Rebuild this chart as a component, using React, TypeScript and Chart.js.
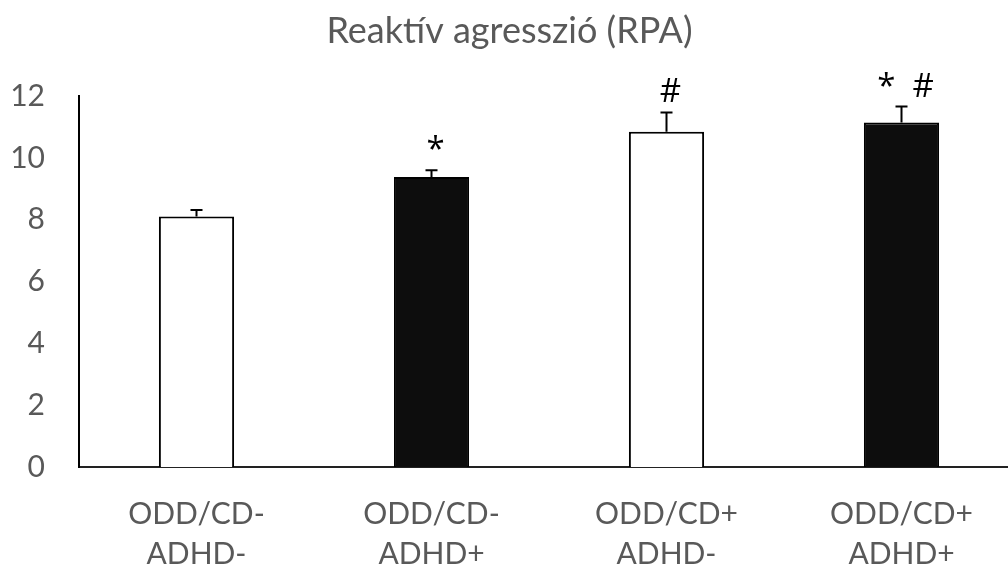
import React, { useEffect, useRef } from "react";
import { Chart, registerables } from "chart.js";

Chart.register(...registerables);

const chartTitle = "Reaktív agresszió (RPA)";
const categories: string[][] = [
  ["ODD/CD-", "ADHD-"],
  ["ODD/CD-", "ADHD+"],
  ["ODD/CD+", "ADHD-"],
  ["ODD/CD+", "ADHD+"],
];
const means = [8.1, 9.38, 10.84, 11.14];
const errors = [0.21, 0.22, 0.63, 0.52];
const marks = ["", "*", "#", "*  #"];
const fillColors = ["#ffffff", "#0d0d0d", "#ffffff", "#0d0d0d"];
const yTicks = [0, 2, 4, 6, 8, 10, 12];

const GRAY = "#595959";

const errorBarPlugin = {
  id: "errorBars",
  afterDatasetsDraw(chart: any) {
    const ctx = chart.ctx;
    const meta = chart.getDatasetMeta(0);
    const yScale = chart.scales.y;
    ctx.save();
    ctx.strokeStyle = "#000000";
    ctx.lineWidth = 2;
    meta.data.forEach((bar: any, i: number) => {
      const top = yScale.getPixelForValue(means[i]);
      const errTop = yScale.getPixelForValue(means[i] + errors[i]);
      ctx.beginPath();
      ctx.moveTo(bar.x, top);
      ctx.lineTo(bar.x, errTop);
      ctx.moveTo(bar.x - 6, errTop);
      ctx.lineTo(bar.x + 6, errTop);
      ctx.stroke();
      if (marks[i]) {
        ctx.fillStyle = "#000000";
        ctx.font = "33px 'Open Sans', sans-serif";
        ctx.textAlign = "center";
        ctx.textBaseline = "alphabetic";
        ctx.fillText(marks[i], bar.x + 4, errTop - 10);
      }
    });
    ctx.restore();
  },
};

export default function App() {
  const canvasRef = useRef<HTMLCanvasElement | null>(null);

  useEffect(() => {
    if (!canvasRef.current) return;
    const chart = new Chart(canvasRef.current, {
      type: "bar",
      data: {
        labels: categories,
        datasets: [
          {
            data: means,
            backgroundColor: fillColors,
            borderColor: "#000000",
            borderWidth: 2,
            barPercentage: 1,
            categoryPercentage: 0.32,
          },
        ],
      },
      options: {
        animation: false,
        responsive: false,
        devicePixelRatio: 1,
        layout: { padding: { top: 0, right: 1, bottom: 0, left: 0 } },
        plugins: {
          legend: { display: false },
          tooltip: { enabled: false },
          title: {
            display: true,
            text: chartTitle,
            color: GRAY,
            font: { family: "Lato", size: 36, weight: "normal", lineHeight: 1.2 },
            padding: { top: 9.4, bottom: 43.4 },
          },
        },
        scales: {
          x: {
            grid: { display: false, drawTicks: false, tickLength: 0 },
            border: { display: true, color: "#222222", width: 2 },
            ticks: {
              color: GRAY,
              font: { family: "Lato", size: 30, lineHeight: 1.33 },
              padding: 27,
              maxRotation: 0,
              autoSkip: false,
            },
            afterFit: (scale: any) => {
              scale.height = 103;
            },
          },
          y: {
            min: 0,
            max: 12,
            afterBuildTicks: (scale: any) => {
              scale.ticks = yTicks.map((v) => ({ value: v }));
            },
            grid: { display: false, drawTicks: false, tickLength: 0 },
            border: { display: true, color: "#000000", width: 2 },
            ticks: {
              color: GRAY,
              font: { family: "Lato", size: 30 },
              padding: 34,
            },
            afterFit: (scale: any) => {
              scale.width = 79;
            },
          },
        },
      },
      plugins: [errorBarPlugin],
    });
    return () => chart.destroy();
  }, []);

  return (
    <div
      style={{
        position: "fixed",
        left: 0,
        top: 0,
        width: 1008,
        height: 570,
        overflow: "hidden",
        background: "#ffffff",
      }}
    >
      <canvas ref={canvasRef} width={1020} height={570} style={{ display: "block" }} />
    </div>
  );
}
